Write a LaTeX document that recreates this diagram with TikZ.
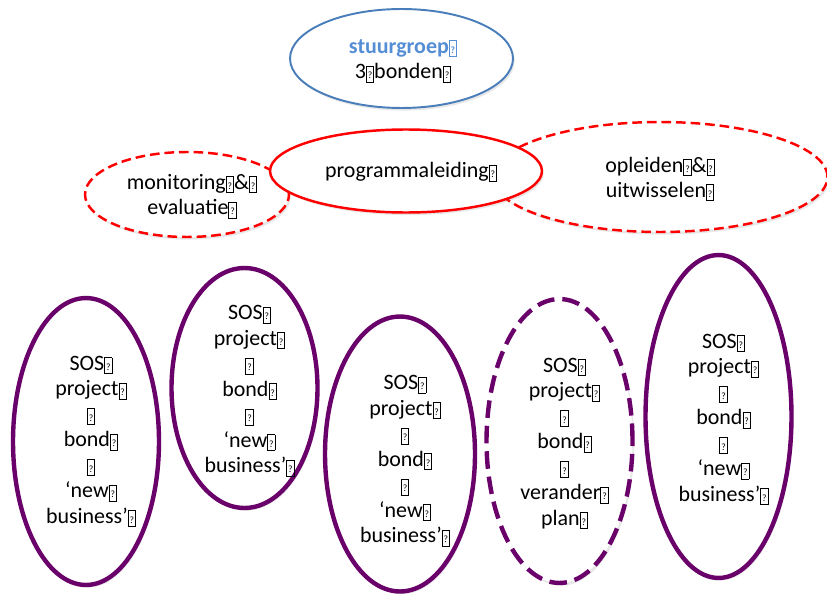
\documentclass[tikz,border=0pt]{standalone}
\usepackage{fontspec}
\setmainfont{Carlito}
\usepackage{xcolor}
\usetikzlibrary{shapes.geometric, shadows}
\definecolor{steel}{HTML}{4A7EBB}
\definecolor{steeltext}{HTML}{558ED5}
\definecolor{plum}{HTML}{6A006A}
\newcommand{\tofu}{{\setlength{\fboxsep}{0.6pt}\setlength{\fboxrule}{0.45pt}%
  \fbox{\rule[-1pt]{0pt}{7.4pt}\fontsize{5.5}{5.5}\selectfont ?}}}

\begin{document}
\begin{tikzpicture}[
    x=0.02cm, y=-0.02cm,
    bubble/.style={ellipse, inner sep=0pt, fill=white,
                   drop shadow={opacity=0.18, shadow xshift=1pt, shadow yshift=-1.5pt}},
    txt/.style={align=center, font=\fontsize{12.5}{14.5}\selectfont},
    board/.style={bubble, draw=steel, line width=1.1pt},
    lead/.style={bubble, draw=red, line width=1.4pt},
    side/.style={bubble, draw=red, line width=1.4pt, dash pattern=on 5.5pt off 2.8pt},
    team/.style={bubble, draw=plum, line width=2.5pt, minimum width=2.92cm},
    tentative/.style={team, dash pattern=on 10pt off 4.5pt}
  ]
    \useasboundingbox (0,0) rectangle (827,601);

    % top row
    \node[side, minimum width=6.7cm, minimum height=2.2cm] (train) at (660,177) {};
    \node[txt] (traintxt) at (660,179) {opleiden\tofu\&\tofu\\uitwisselen\tofu};
    \node[side, minimum width=4.08cm, minimum height=1.7cm] (monitor) at (187,194.5) {};
    \node[txt] (monitortxt) at (192,196.5) {monitoring\tofu\&\tofu\\evaluatie\tofu};
    \node[lead, minimum width=5.44cm, minimum height=1.66cm] (lead) at (406,171) {};
    \node[txt] (leadtxt) at (411,172) {programmaleiding\tofu};
    \node[board, minimum width=4.46cm, minimum height=1.98cm] (board) at (401.5,58.5) {};
    \node[txt] (boardtxt) at (403,61) {\textbf{\color{steeltext}stuurgroep\tofu}\\3\tofu bonden\tofu};

    % projects
    \node[team, minimum height=5.74cm] (p1) at (86,441.5) {};
    \node[txt] (p1txt) at (91,441.5) {SOS\tofu\\project\tofu\\\tofu\\bond\tofu\\\tofu\\`new\tofu\\business'\tofu};
    \node[team, minimum height=4.8cm] (p2) at (244.5,388) {};
    \node[txt] (p2txt) at (249.5,391) {SOS\tofu\\project\tofu\\\tofu\\bond\tofu\\\tofu\\`new\tofu\\business'\tofu};
    \node[team, minimum width=3cm, minimum height=5.5cm] (p3) at (400,454) {};
    \node[txt] (p3txt) at (405,461) {SOS\tofu\\project\tofu\\\tofu\\bond\tofu\\\tofu\\`new\tofu\\business'\tofu};
    \node[tentative, minimum height=5.68cm] (p4) at (559.5,441) {};
    \node[txt] (p4txt) at (564.5,443.5) {SOS\tofu\\project\tofu\\\tofu\\bond\tofu\\\tofu\\verander\tofu\\plan\tofu};
    \node[team, minimum height=6.46cm] (p5) at (718.5,416.5) {};
    \node[txt] (p5txt) at (723.5,419.5) {SOS\tofu\\project\tofu\\\tofu\\bond\tofu\\\tofu\\`new\tofu\\business'\tofu};
  \end{tikzpicture}
\end{document}
